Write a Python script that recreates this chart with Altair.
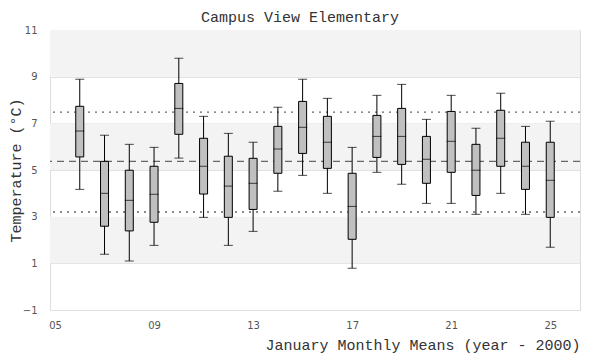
import altair as alt
import pandas as pd

years = list(range(6, 26))
whisk_hi = [8.89, 6.49, 6.10, 5.97, 9.79, 7.30, 6.57, 6.19, 7.69, 8.89, 8.07, 5.97, 8.20, 8.67, 7.17, 8.20, 6.79, 8.29, 6.87, 7.09]
q3 = [7.73, 5.37, 4.99, 5.16, 8.71, 6.36, 5.59, 5.50, 6.87, 7.94, 7.30, 4.86, 7.34, 7.64, 6.44, 7.51, 6.10, 7.56, 6.19, 6.19]
med = [6.67, 4.00, 3.70, 3.96, 7.64, 5.16, 4.31, 4.43, 5.90, 6.83, 6.19, 3.44, 6.44, 6.44, 5.46, 6.23, 4.99, 6.36, 5.16, 4.56]
q1 = [5.56, 2.59, 2.39, 2.76, 6.53, 3.97, 2.97, 3.31, 4.86, 5.71, 5.07, 2.03, 5.54, 5.24, 4.43, 4.90, 3.91, 5.16, 4.17, 2.97]
whisk_lo = [4.17, 1.39, 1.10, 1.77, 5.51, 2.97, 1.77, 2.37, 4.09, 4.77, 4.00, 0.79, 4.90, 4.39, 3.57, 3.57, 3.10, 4.00, 3.10, 1.69]

band_lo = [1, 5, 9]
band_hi = [3, 7, 11]

mean_val = [5.37]
sd_lines = [7.48, 3.20]

y_ticks = [-1, 1, 3, 5, 7, 9, 11]
x_ticks = [5, 9, 13, 17, 21, 25]

MONO = "Liberation Mono"
LBL = "DejaVu Sans"

df = pd.DataFrame({"year": years, "hi": whisk_hi, "q3": q3, "med": med, "q1": q1, "lo": whisk_lo})
bands = pd.DataFrame({"lo": band_lo, "hi": band_hi})
mean_df = pd.DataFrame({"v": mean_val})
sd_df = pd.DataFrame({"v": sd_lines})

xscale = alt.Scale(domain=[5, 26], nice=False, zero=False)
yscale = alt.Scale(domain=[-1, 11], nice=False, zero=False)

xaxis = alt.Axis(values=x_ticks, format="02d", grid=False, domain=False, ticks=False,
                 labelFont=LBL, labelFontSize=10, labelColor="#555",
                 labelPadding=10, title="January Monthly Means (year - 2000)",
                 titleFont=MONO, titleFontSize=15, titleFontWeight="normal", titleColor="#333",
                 titleAnchor="end", titlePadding=7)
yaxis = alt.Axis(values=y_ticks, grid=True, gridColor="#e0e0e0", domain=False, ticks=False,
                 labelFont=LBL, labelFontSize=10, labelColor="#555",
                 labelPadding=13, title="Temperature (°C)",
                 titleFont=MONO, titleFontSize=15, titleFontWeight="normal", titleColor="#333",
                 titleX=-27, titleY=140)

band_layer = alt.Chart(bands).mark_rect(color="#f3f3f3").encode(
    y=alt.Y("lo:Q", scale=yscale, axis=yaxis),
    y2="hi:Q",
    x=alt.value(0),
    x2=alt.value(530),
)

grid_layer = alt.Chart(df).mark_point(opacity=0).encode(
    x=alt.X("year:Q", scale=xscale, axis=xaxis),
    y=alt.Y("med:Q", scale=yscale, axis=yaxis),
)

mean_layer = alt.Chart(mean_df).mark_rule(color="#666", strokeDash=[7, 5], strokeWidth=1.3).encode(
    y=alt.Y("v:Q", scale=yscale)
)
sd_layer = alt.Chart(sd_df).mark_rule(color="#666", strokeDash=[2, 5], strokeWidth=1.3).encode(
    y=alt.Y("v:Q", scale=yscale)
)

base = alt.Chart(df)
whisk = base.mark_rule(color="black", strokeWidth=1).encode(
    x=alt.X("year:Q", scale=xscale),
    y=alt.Y("lo:Q", scale=yscale),
    y2="hi:Q",
)
box = base.mark_bar(size=8, color="#c0c0c0", stroke="black", strokeWidth=1).encode(
    x=alt.X("year:Q", scale=xscale),
    y=alt.Y("q1:Q", scale=yscale),
    y2="q3:Q",
)
med_tick = base.mark_tick(color="black", thickness=1, size=9, orient="horizontal").encode(
    x=alt.X("year:Q", scale=xscale),
    y=alt.Y("med:Q", scale=yscale),
)
hi_tick = base.mark_tick(color="black", thickness=1, size=9, orient="horizontal").encode(
    x=alt.X("year:Q", scale=xscale),
    y=alt.Y("hi:Q", scale=yscale),
)
lo_tick = base.mark_tick(color="black", thickness=1, size=9, orient="horizontal").encode(
    x=alt.X("year:Q", scale=xscale),
    y=alt.Y("lo:Q", scale=yscale),
)

chart = alt.layer(
    band_layer, grid_layer, sd_layer, mean_layer, whisk, box, med_tick, hi_tick, lo_tick
).properties(
    width=530, height=280,
    title=alt.TitleParams("Campus View Elementary", font=MONO, fontSize=15, fontWeight="normal",
                          color="#333", anchor="middle", dx=-15, offset=0),
    autosize=alt.AutoSizeParams(type="none"),
    padding={"left": 42, "top": 22, "right": 12, "bottom": 46},
).configure_view(stroke="#dddddd", strokeWidth=1)

chart.save("out.html", embed_options={"renderer": "svg", "actions": False})
